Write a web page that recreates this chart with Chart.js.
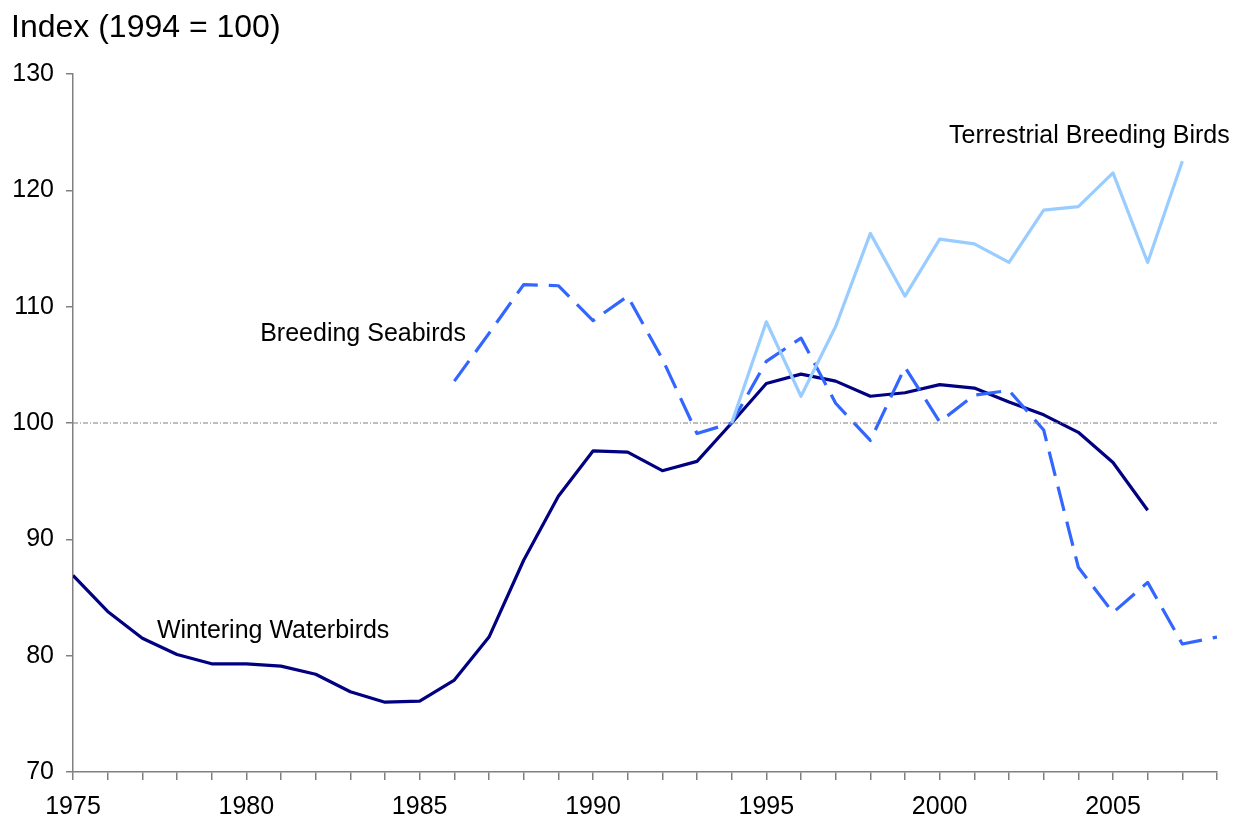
<!DOCTYPE html>
<html lang="en">
<head>
  <meta charset="UTF-8" />
  <title>Bird population indices</title>
  <script src="https://cdn.jsdelivr.net/npm/chart.js"></script>
  <style>
    html, body { margin: 0; padding: 0; background: #fff; }
    #wrap { width: 1234px; height: 821px; position: relative; }
  </style>
</head>
<body>
  <div id="wrap"><canvas id="birdChart" width="1234" height="821"></canvas></div>

  <script>
    // axis range and tick labels
    const yearRange = [1975, 2008];
    const yTicks = [70, 80, 90, 100, 110, 120, 130];
    const baseValue = 100;

    // Wintering Waterbirds, 1975-2006
    const winteringYears = [1975, 1976, 1977, 1978, 1979, 1980, 1981, 1982, 1983, 1984, 1985, 1986, 1987, 1988, 1989, 1990,
      1991, 1992, 1993, 1994, 1995, 1996, 1997, 1998, 1999, 2000, 2001, 2002, 2003, 2004, 2005, 2006];
    const winteringValues = [86.9, 83.8, 81.5, 80.1, 79.3, 79.3, 79.1, 78.4, 76.9, 76.0, 76.1, 77.9, 81.6, 88.2, 93.7, 97.6,
      97.5, 95.9, 96.7, 100, 103.4, 104.2, 103.6, 102.3, 102.6, 103.3, 103.0, 101.8, 100.7, 99.2, 96.6, 92.5];

    // Breeding Seabirds, 1986-2008
    const seabirdYears = [1986, 1987, 1988, 1989, 1990, 1991, 1992, 1993, 1994, 1995, 1996, 1997, 1998, 1999, 2000,
      2001, 2002, 2003, 2004, 2005, 2006, 2007, 2008];
    const seabirdValues = [103.6, 107.7, 111.9, 111.8, 108.8, 110.9, 105.5, 99.1, 100, 105.3, 107.3, 101.7, 98.5, 104.8, 100.1,
      102.4, 102.8, 99.4, 87.6, 83.7, 86.3, 81.0, 81.6];

    // Terrestrial Breeding Birds, 1994-2007
    const terrestrialYears = [1994, 1995, 1996, 1997, 1998, 1999, 2000, 2001, 2002, 2003, 2004, 2005, 2006, 2007];
    const terrestrialValues = [100, 108.7, 102.3, 108.3, 116.3, 110.9, 115.8, 115.4, 113.8, 118.3, 118.6, 121.5, 113.8, 122.5];

    const toPoints = (xs, ys) => xs.map((x, i) => ({ x, y: ys[i] }));

    const FONT = "'Liberation Sans', Arial, sans-serif";
    const AXIS_GREY = "#808080";

    // text labels placed next to each line, anchored in data units
    const lineLabels = [
      { text: "Terrestrial Breeding Birds", x: 2000.27, y: 124.7 },
      { text: "Breeding Seabirds", x: 1980.4, y: 107.6 },
      { text: "Wintering Waterbirds", x: 1977.42, y: 82.1 }
    ];

    const annotations = {
      id: "annotations",
      afterDatasetsDraw(chart) {
        const { ctx, scales } = chart;
        ctx.save();
        ctx.fillStyle = "#000";
        ctx.textBaseline = "middle";
        ctx.textAlign = "left";
        ctx.font = `25px ${FONT}`;
        lineLabels.forEach(l => {
          ctx.fillText(l.text, scales.x.getPixelForValue(l.x), scales.y.getPixelForValue(l.y));
        });
        ctx.font = `32px ${FONT}`;
        ctx.fillText("Index (1994 = 100)", 11, 28);
        ctx.restore();
      }
    };

    new Chart(document.getElementById("birdChart"), {
      type: "line",
      data: {
        datasets: [
          {
            label: "Base",
            data: toPoints(yearRange, [baseValue, baseValue]),
            borderColor: "#7f7f7f",
            borderWidth: 1,
            borderDash: [5, 2, 1, 2],
            pointRadius: 0
          },
          {
            label: "Terrestrial Breeding Birds",
            data: toPoints(terrestrialYears, terrestrialValues),
            borderColor: "#99ccff",
            borderWidth: 3.2,
            pointRadius: 0
          },
          {
            label: "Breeding Seabirds",
            data: toPoints(seabirdYears, seabirdValues),
            borderColor: "#3366ff",
            borderWidth: 3.2,
            borderDash: [25, 11],
            pointRadius: 0
          },
          {
            label: "Wintering Waterbirds",
            data: toPoints(winteringYears, winteringValues),
            borderColor: "#000080",
            borderWidth: 3.2,
            pointRadius: 0
          }
        ]
      },
      options: {
        responsive: false,
        animation: false,
        layout: { padding: { left: 0, right: 17, top: 74, bottom: 0 } },
        plugins: {
          legend: { display: false },
          tooltip: { enabled: false }
        },
        elements: { line: { tension: 0, borderJoinStyle: "round", borderCapStyle: "butt" } },
        scales: {
          x: {
            type: "linear",
            min: yearRange[0],
            max: yearRange[1],
            afterFit: s => { s.height = 49; },
            border: { display: true, color: AXIS_GREY, width: 1.5 },
            grid: { drawOnChartArea: false, drawTicks: true, tickLength: 8, color: AXIS_GREY, lineWidth: 1.5 },
            ticks: {
              stepSize: 1,
              autoSkip: false,
              maxRotation: 0,
              padding: 12,
              color: "#000",
              font: { family: FONT, size: 25 },
              callback: v => (v % 5 === 0 ? String(v) : "")
            }
          },
          y: {
            min: yTicks[0],
            max: yTicks[yTicks.length - 1],
            afterFit: s => { s.width = 73; },
            afterBuildTicks: s => { s.ticks = yTicks.map(v => ({ value: v })); },
            border: { display: true, color: AXIS_GREY, width: 1.5 },
            grid: { drawOnChartArea: false, drawTicks: true, tickLength: 7, color: AXIS_GREY, lineWidth: 1.5 },
            ticks: {
              padding: 12,
              color: "#000",
              font: { family: FONT, size: 25 }
            }
          }
        }
      },
      plugins: [annotations]
    });
  </script>
</body>
</html>
